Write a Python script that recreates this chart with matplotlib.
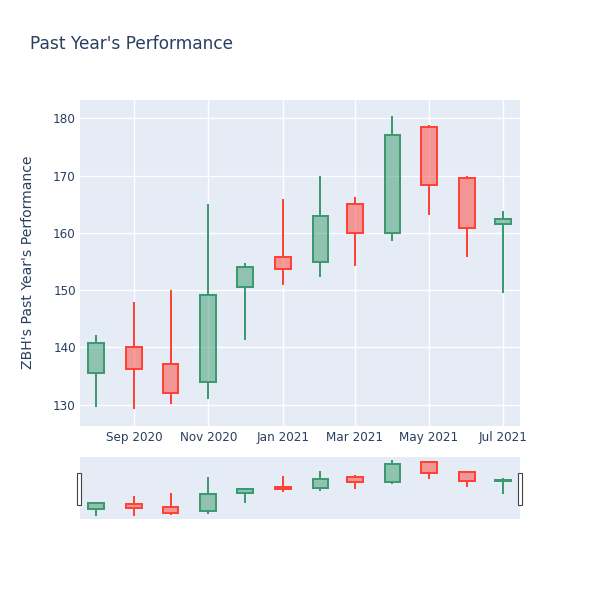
import matplotlib
matplotlib.use("Agg")
import matplotlib.pyplot as plt
import matplotlib.dates as mdates
from matplotlib.patches import Rectangle
import numpy as np
import datetime as dt

# ---- data ----
dates = ["2020-08-01", "2020-09-01", "2020-10-01", "2020-11-01", "2020-12-01", "2021-01-01",
         "2021-02-01", "2021-03-01", "2021-04-01", "2021-05-01", "2021-06-01", "2021-07-01"]
opens  = [135.5, 140.1, 137.1, 133.9, 150.5, 155.7, 154.9, 165.0, 160.0, 178.5, 169.5, 161.6]
highs  = [142.2, 147.9, 150.0, 165.1, 154.7, 165.9, 170.0, 166.3, 180.4, 178.8, 169.9, 163.8]
lows   = [129.6, 129.2, 130.1, 131.0, 141.3, 150.9, 152.3, 154.2, 158.5, 163.1, 155.8, 149.5]
closes = [140.8, 136.2, 132.1, 149.1, 154.1, 153.7, 163.0, 160.0, 177.1, 168.4, 160.9, 162.4]

tick_dates = ["2020-09-01", "2020-11-01", "2021-01-01", "2021-03-01", "2021-05-01", "2021-07-01"]
tick_labels = ["Sep 2020", "Nov 2020", "Jan 2021", "Mar 2021", "May 2021", "Jul 2021"]
y_ticks = [130, 140, 150, 160, 170, 180]

title = "Past Year's Performance"
ylabel = "ZBH's Past Year's Performance"

# ---- style ----
INC = "#3D9970"
DEC = "#FF4136"
BG = "#E5ECF6"
TXT = "#2a3f5f"
W, H = 600, 600
plt.rcParams['font.family'] = ['DejaVu Sans']

fig = plt.figure(figsize=(6, 6), dpi=100)

def fx(px):
    return px / W

def fy(py):
    return 1 - py / H

main = fig.add_axes([fx(80), fy(425.7), fx(520 - 80), (425.7 - 100) / H])
slider = fig.add_axes([fx(80), fy(519.3), fx(520 - 80), (519.3 - 456.7) / H])

x = mdates.date2num([dt.datetime.strptime(d, "%Y-%m-%d") for d in dates])
xlim = (mdates.date2num(dt.datetime(2020, 7, 18, 18)), mdates.date2num(dt.datetime(2021, 7, 14, 15)))
body_w = 13.0
lw = 1.44

def draw(ax):
    for xi, o, h, l, c in zip(x, opens, highs, lows, closes):
        col = INC if c >= o else DEC
        lo_b, hi_b = min(o, c), max(o, c)
        ax.vlines(xi, l, lo_b, color=col, lw=lw, zorder=3)
        ax.vlines(xi, hi_b, h, color=col, lw=lw, zorder=3)
        ax.bar(xi, hi_b - lo_b, bottom=lo_b, width=body_w, color=col, alpha=0.5,
               edgecolor='none', zorder=3)
        ax.bar(xi, hi_b - lo_b, bottom=lo_b, width=body_w, facecolor='none',
               edgecolor=col, lw=lw, zorder=4)
    ax.set_xlim(*xlim)
    ax.set_facecolor(BG)
    for s in ax.spines.values():
        s.set_visible(False)

draw(main)
main.set_ylim(126.3, 183.2)
main.set_yticks(y_ticks)
main.set_xticks(mdates.date2num([dt.datetime.strptime(d, "%Y-%m-%d") for d in tick_dates]))
main.set_xticklabels(tick_labels)
main.tick_params(axis='both', length=0, labelsize=8.64, colors=TXT)
main.tick_params(axis='y', pad=3)
main.tick_params(axis='x', pad=4)
main.grid(True, color='white', lw=1.0)
main.set_axisbelow(True)

draw(slider)
slider.set_ylim(126.2, 183.4)
slider.set_xticks([])
slider.set_yticks([])

# range slider handles
for px in (77.3, 518.3):
    fig.patches.append(Rectangle((fx(px), fy(505.3)), 4 / W, (505.3 - 473.3) / H,
                                 transform=fig.transFigure, facecolor='white',
                                 edgecolor='#444444', lw=0.8, zorder=10))

fig.text(fx(30), fy(44), title, fontsize=12.24, color=TXT, va='center', ha='left')
fig.text(fx(28), fy(262), ylabel, fontsize=10.08, color=TXT, va='center', ha='center',
         rotation=90)

fig.savefig("out.png", dpi=100, facecolor='white')
